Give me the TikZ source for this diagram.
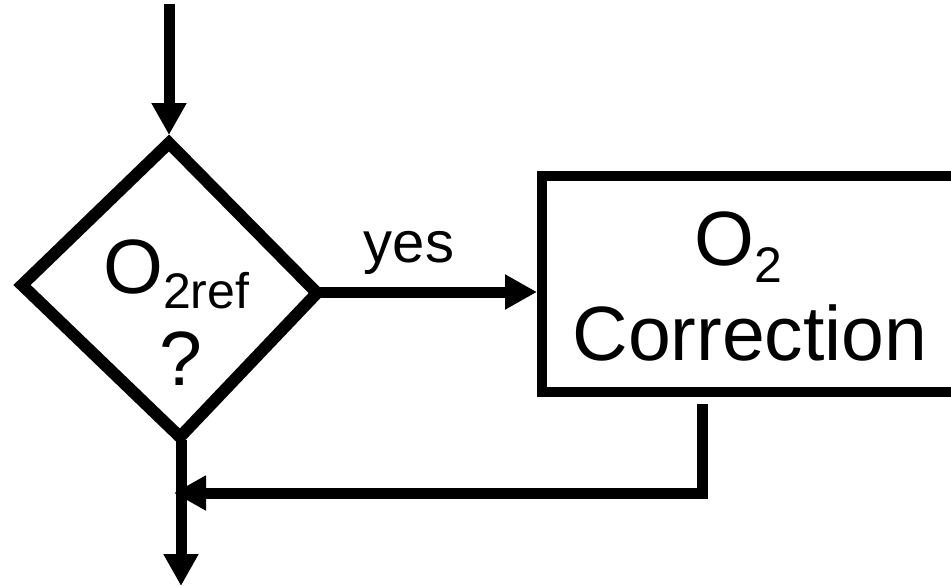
\documentclass[tikz,border=0pt]{standalone}
\usepackage{fontspec}
\setmainfont{Liberation Sans}
\usetikzlibrary{arrows.meta}
\tikzset{
  conn/.style={line width=11pt, -{Triangle[length=32pt,width=33pt]}},
  plain/.style={line width=11pt},
  shapeline/.style={line width=12pt, line join=miter},
  boxline/.style={line width=10pt, line join=miter},
  big/.style={font=\fontsize{77}{92}\selectfont, inner sep=0pt},
  mid/.style={font=\fontsize{58}{70}\selectfont, inner sep=0pt}
}
\begin{document}
\begin{tikzpicture}[x=1pt,y=-1pt]
\useasboundingbox (0,0) rectangle (951,586);
\clip (0,0) rectangle (951,586);
% diamond vertices
\coordinate (dt) at (169,143);
\coordinate (dr) at (317,293);
\coordinate (db) at (180,437);
\coordinate (dl) at (22,285);
\draw[shapeline] (dt) -- (dr) -- (db) -- (dl) -- cycle;
% box
\coordinate (bl) at (542,176);
\coordinate (br) at (1000,392);
\draw[boxline] (bl) rectangle (br);
% connectors
\coordinate (start) at (169,4);
\coordinate (ttip) at (169,135);
\draw[conn] (start) -- (ttip);
\coordinate (ystart) at (318,292);
\coordinate (yend) at (537,292);
\draw[conn] (ystart) -- (yend);
\coordinate (rstart) at (702,404);
\coordinate (rcorner) at (702,493);
\coordinate (rtip) at (174,493);
\draw[conn, line join=miter] (rstart) -- (rcorner) -- (rtip);
\coordinate (bstart) at (181,440);
\coordinate (bend) at (181,586);
\draw[conn] (bstart) -- (bend);
% texts
\node[big, anchor=base west] (dtxt) at (103,293) {O\raisebox{-15pt}{\fontsize{50}{60}\selectfont 2ref}};
\node[big, anchor=base] (q) at (181,385) {?};
\node[mid, anchor=base] (yes) at (409,262) {yes};
\node[big, anchor=base west] (otxt) at (694,265) {O\raisebox{-17pt}{\fontsize{50}{60}\selectfont 2}};
\node[big, anchor=base] (corr) at (750,360) {Correction};
\end{tikzpicture}
\end{document}
